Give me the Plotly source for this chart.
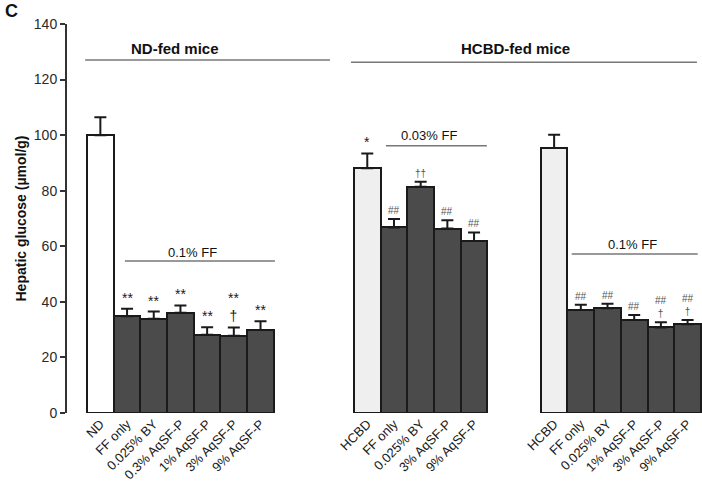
import plotly.graph_objects as go

# ---------------- data ----------------
nd_labels = ["ND", "FF only", "0.025% BY", "0.3% AqSF-P", "1% AqSF-P", "3% AqSF-P", "9% AqSF-P"]
nd_means = [100.0, 34.8, 33.9, 36.1, 28.2, 27.8, 29.9]
nd_err = [6.4, 2.7, 2.6, 2.6, 2.7, 3.0, 3.1]
nd_marks = ["", "**", "**", "**", "**", "**<br>†", "**"]

hc1_labels = ["HCBD", "FF only", "0.025% BY", "3% AqSF-P", "9% AqSF-P"]
hc1_means = [88.1, 66.8, 81.4, 66.4, 61.9]
hc1_err = [5.3, 3.0, 1.8, 3.0, 3.1]
hc1_marks = ["*", "##", "††", "##", "##"]

hc2_labels = ["HCBD", "FF only", "0.025% BY", "1% AqSF-P", "3% AqSF-P", "9% AqSF-P"]
hc2_means = [95.4, 37.1, 37.7, 33.5, 30.8, 31.9]
hc2_err = [4.7, 1.9, 1.6, 1.8, 1.9, 1.6]
hc2_marks = ["", "##", "##", "##", "##<br>†", "##<br>†"]

y_ticks = [0, 20, 40, 60, 80, 100, 120, 140]

# ---------------- layout helpers ----------------
group_starts = [0, 10, 17]
groups = [
    (nd_labels, nd_means, nd_err, nd_marks),
    (hc1_labels, hc1_means, hc1_err, hc1_marks),
    (hc2_labels, hc2_means, hc2_err, hc2_marks),
]

FONT = "Arial, Liberation Sans, sans-serif"
DARK = "#4b4b4b"

xs, ys, es, labels, colors, marks = [], [], [], [], [], []
for start, (lab, m, e, mk) in zip(group_starts, groups):
    for i in range(len(lab)):
        xs.append(start + i)
        ys.append(m[i])
        es.append(e[i])
        labels.append(lab[i])
        marks.append(mk[i])
        if lab[i] == "ND":
            colors.append("#ffffff")
        elif lab[i] == "HCBD":
            colors.append("#efefef")
        else:
            colors.append(DARK)

fig = go.Figure()
fig.add_trace(go.Bar(
    x=xs, y=ys, width=1,
    marker=dict(color=colors, line=dict(color="#1a1a1a", width=2)),
    error_y=dict(type="data", symmetric=False, array=es, arrayminus=[0] * len(es),
                 color="#1a1a1a", thickness=2, width=6),
    showlegend=False, hoverinfo="skip",
))

annotations = []
for x, y, e, mk in zip(xs, ys, es, marks):
    if not mk:
        continue
    hashy = "#" in mk or mk == "††"
    annotations.append(dict(
        x=x, y=y + e, text=mk, showarrow=False, xanchor="center", yanchor="bottom",
        yshift=1,
        font=dict(family=FONT, size=10 if hashy else 14,
                  color="#555555" if hashy else "#1a1a1a"),
    ))

def label_text(x, y, text, size, bold=False):
    annotations.append(dict(
        x=x, y=y, text=f"<b>{text}</b>" if bold else text, showarrow=False,
        xanchor="center", yanchor="middle",
        font=dict(family=FONT, size=size, color="#111111"),
    ))

label_text(2.8, 131.3, "ND-fed mice", 15, bold=True)
label_text(15.55, 131.3, "HCBD-fed mice", 15, bold=True)
label_text(3.47, 57.9, "0.1% FF", 13)
label_text(12.33, 100.0, "0.03% FF", 13)
label_text(19.95, 60.8, "0.1% FF", 13)

shapes = []
def hline(x0, x1, y):
    shapes.append(dict(type="line", xref="x", yref="y", x0=x0, x1=x1, y0=y, y1=y,
                       line=dict(color="#777777", width=1.5)))

hline(-0.57, 8.6, 127.0)
hline(9.39, 22.35, 126.2)
hline(0.92, 6.54, 54.7)
hline(10.7, 14.48, 96.2)
hline(17.66, 22.38, 57.2)

annotations.append(dict(
    x=0, y=1, xref="paper", yref="paper", text="<b>C</b>", showarrow=False,
    xanchor="left", yanchor="top", font=dict(family=FONT, size=18, color="#111111"),
    xshift=-64, yshift=25,
))

fig.update_layout(
    width=702, height=484,
    margin=dict(l=67, r=0, t=24, b=71, autoexpand=False),
    paper_bgcolor="white", plot_bgcolor="white",
    bargap=0,
    annotations=annotations,
    shapes=shapes,
    font=dict(family=FONT, color="#1a1a1a"),
)
fig.update_xaxes(
    range=[-1.25, 22.54], automargin=False,
    tickmode="array", tickvals=xs, ticktext=labels, tickangle=-45,
    tickfont=dict(family=FONT, size=13, color="#1a1a1a"),
    showline=False, showgrid=False, zeroline=False, ticks="",
)
fig.update_yaxes(
    range=[0, 140], tickmode="array", tickvals=y_ticks, automargin=False,
    tickfont=dict(family=FONT, size=14, color="#2a2a2a"),
    showline=True, linecolor="#333333", linewidth=2,
    ticks="outside", ticklen=5, tickwidth=1.5, tickcolor="#333333",
    showgrid=False, zeroline=False,
    title=dict(text="<b>Hepatic glucose (µmol/g)</b>", font=dict(family=FONT, size=14, color="#111111"),
               standoff=4),
)

fig.write_html("out.html", config={"displayModeBar": False},
               post_script="document.body.style.margin='0';document.body.style.overflow='hidden';")
